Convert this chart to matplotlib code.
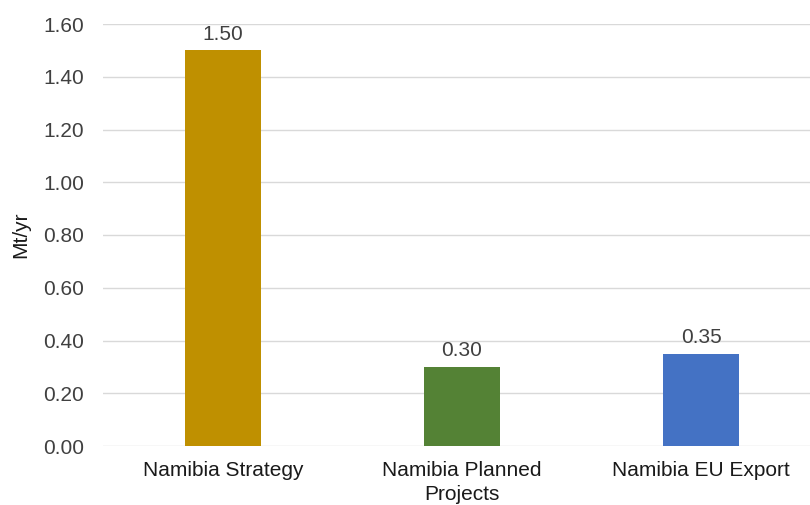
import numpy as np
import matplotlib
matplotlib.use('Agg')
import matplotlib.pyplot as plt
from matplotlib.ticker import FormatStrFormatter

categories = ['Namibia Strategy', 'Namibia Planned\nProjects', 'Namibia EU Export']
values = [1.50, 0.30, 0.35]
colors = ['#BF9000', '#548235', '#4472C4']
y_ticks = [0.0, 0.2, 0.4, 0.6, 0.8, 1.0, 1.2, 1.4, 1.6]

plt.rcParams['font.family'] = ['Liberation Sans', 'DejaVu Sans']

fig = plt.figure(figsize=(8.1, 5.05), dpi=100)
ax = fig.add_axes([103.5 / 810, 1 - 446 / 505, 717 / 810, (446 - 24) / 505])

x = np.arange(len(categories))
bars = ax.bar(x, values, width=0.314, color=colors, zorder=3)
for b, v in zip(bars, values):
    ax.text(b.get_x() + b.get_width() / 2, v + 0.025, '%.2f' % v,
            ha='center', va='bottom', fontsize=15, color='#404040')

ax.set_xlim(-0.5, 2.5)
ax.set_ylim(0, 1.6)
ax.set_yticks(y_ticks)
ax.yaxis.set_major_formatter(FormatStrFormatter('%.2f'))
ax.set_xticks(x)
ax.set_xticklabels(categories, fontsize=15, color='#1a1a1a', linespacing=1.3)
ax.tick_params(axis='y', labelsize=15, labelcolor='#404040', length=0, pad=14)
ax.tick_params(axis='x', length=0, pad=11)
ax.grid(axis='y', color='#D9D9D9', linewidth=1, zorder=0)
for s in ax.spines.values():
    s.set_visible(False)
ax.set_ylabel('Mt/yr', fontsize=15, color='#1a1a1a', labelpad=9)

plt.savefig('out.png', dpi=100)
